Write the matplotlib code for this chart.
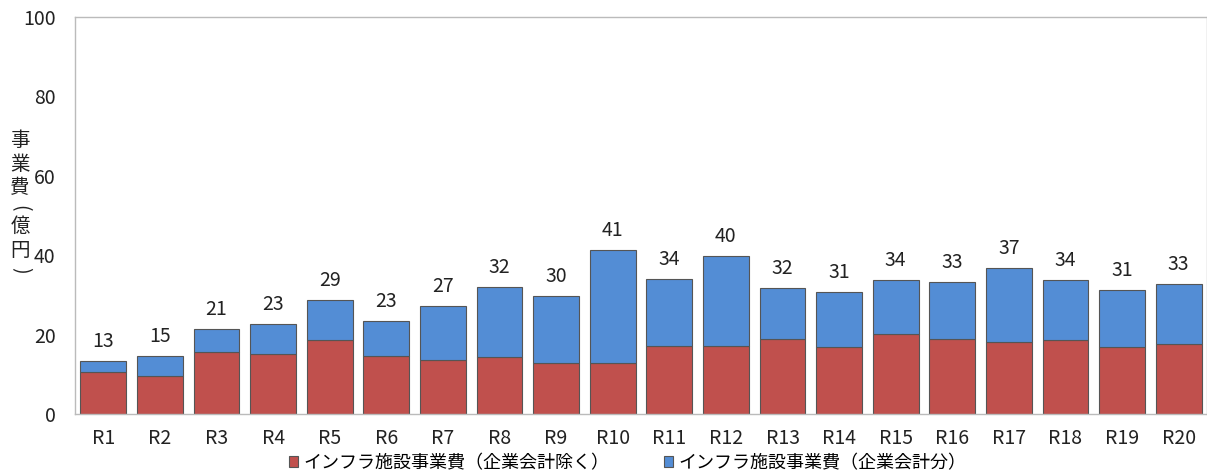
import matplotlib.pyplot as plt
import numpy as np

# data (億円)
years = ['R1', 'R2', 'R3', 'R4', 'R5', 'R6', 'R7', 'R8', 'R9', 'R10',
         'R11', 'R12', 'R13', 'R14', 'R15', 'R16', 'R17', 'R18', 'R19', 'R20']
infra_excl = [10.6, 9.6, 15.6, 15.1, 18.6, 14.6, 13.6, 14.4, 12.8, 12.8,
              17.1, 17.1, 18.9, 16.9, 20.2, 18.9, 18.1, 18.6, 16.9, 17.6]
infra_corp = [2.8, 5.0, 5.8, 7.6, 10.1, 8.8, 13.6, 17.6, 16.9, 28.5,
              16.9, 22.7, 12.8, 13.8, 13.6, 14.3, 18.7, 15.2, 14.3, 15.1]
legend_labels = ['インフラ施設事業費（企業会計除く）', 'インフラ施設事業費（企業会計分）']
ylabel_chars = ['事', '業', '費', '(', '億', '円', ')']

plt.rcParams['font.family'] = ['Noto Sans CJK JP', 'DejaVu Sans']

fig = plt.figure(figsize=(12.07, 4.76), dpi=100)
ax = fig.add_axes([75 / 1207, 1 - 414 / 476, 1 - 75 / 1207, (414 - 17) / 476])

x = np.arange(len(years))
red = '#C0504D'
blue = '#538DD5'
b1 = ax.bar(x, infra_excl, width=0.81, color=red, edgecolor='#555555', linewidth=0.8,
            label=legend_labels[0])
b2 = ax.bar(x, infra_corp, width=0.81, bottom=infra_excl, color=blue, edgecolor='#555555',
            linewidth=0.8, label=legend_labels[1])

totals = np.array(infra_excl) + np.array(infra_corp)
for xi, t in zip(x, totals):
    ax.text(xi, t + 2.2, f'{t:.0f}', ha='center', va='bottom', fontsize=14, color='#222222')

ax.set_xlim(-0.5, 19.5)
ax.set_ylim(0, 100)
ax.set_yticks([0, 20, 40, 60, 80, 100])
ax.set_xticks(x)
ax.set_xticklabels(years)
ax.tick_params(length=0, labelsize=14, colors='#222222')
ax.tick_params(axis='y', pad=14)
ax.tick_params(axis='x', pad=10)
for s in ax.spines.values():
    s.set_color('#BBBBBB')
    s.set_linewidth(1)

# vertical y label, one character at a time, brackets turned
ypix = 140
for ch in ylabel_chars:
    if ch in '()':
        ypix -= 4
        fig.text(20 / 1207, 1 - ypix / 476, ch, ha='center', va='center', fontsize=14,
                 rotation=-90, color='#222222')
        ypix += 18
    else:
        fig.text(20 / 1207, 1 - ypix / 476, ch, ha='center', va='center', fontsize=14,
                 color='#222222')
        ypix += 24

leg = fig.legend(handles=[b1, b2], loc='center', bbox_to_anchor=(0.52, 1 - 463 / 476), ncol=2,
                 frameon=False, handlelength=0.5, handleheight=0.5, handletextpad=0.3,
                 columnspacing=3.0, prop={'size': 13})

fig.savefig('out.png', dpi=100)
